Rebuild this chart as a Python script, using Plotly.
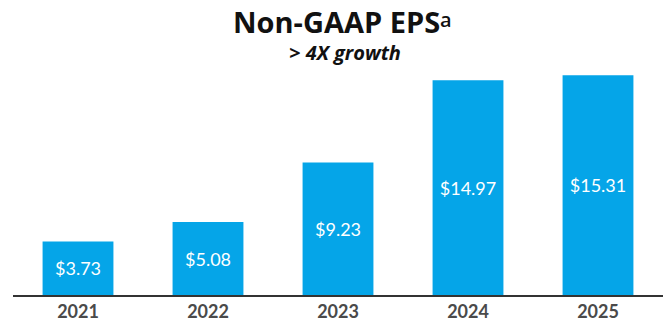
import plotly.graph_objects as go

years = ["2021", "2022", "2023", "2024", "2025"]
eps = [3.73, 5.08, 9.23, 14.97, 15.31]
labels = ["$3.73", "$5.08", "$9.23", "$14.97", "$15.31"]

title_text = "Non-GAAP EPS"
title_note = "a"
subtitle_text = "> 4X growth"

BAR_BLUE = "#05A5E8"
PLOT_LEFT, PLOT_WIDTH = 13, 650


def px_to_paper(px):
    return (px - PLOT_LEFT) / PLOT_WIDTH


fig = go.Figure(
    go.Bar(
        x=years,
        y=eps,
        text=labels,
        textposition="inside",
        insidetextanchor="middle",
        textangle=0,
        textfont=dict(family="Lato", size=18, color="white"),
        marker=dict(color=BAR_BLUE, line=dict(width=0)),
        hoverinfo="skip",
    )
)

fig.update_layout(
    width=668,
    height=329,
    margin=dict(l=PLOT_LEFT, r=668 - PLOT_LEFT - PLOT_WIDTH, t=70, b=34),
    paper_bgcolor="white",
    plot_bgcolor="white",
    bargap=0.455,
    showlegend=False,
    uniformtext=dict(minsize=18, mode="show"),
    xaxis=dict(
        showline=True,
        linecolor="#333333",
        linewidth=1.5,
        showgrid=False,
        ticks="",
        tickfont=dict(family="Lato", size=18, color="#4a4a4a", weight="bold"),
    ),
    yaxis=dict(
        range=[0, 15.68],
        visible=False,
        showgrid=False,
        zeroline=False,
    ),
    annotations=[
        dict(
            text=title_text,
            xref="paper", yref="paper",
            x=px_to_paper(336), y=1, yshift=49,
            xanchor="center", yanchor="middle",
            showarrow=False,
            font=dict(family="Open Sans", size=29, color="#111111", weight="bold"),
        ),
        dict(
            text=title_note,
            xref="paper", yref="paper",
            x=px_to_paper(439), y=1, yshift=51,
            xanchor="left", yanchor="middle",
            showarrow=False,
            borderpad=0,
            font=dict(family="Open Sans", size=20, color="#111111", weight=600),
        ),
        dict(
            text="<b><i>" + subtitle_text + "</i></b>",
            xref="paper", yref="paper",
            x=px_to_paper(345), y=1, yshift=18,
            xanchor="center", yanchor="middle",
            showarrow=False,
            font=dict(family="Open Sans", size=20, color="#111111"),
        ),
    ],
)

fig.write_html("out.html")
